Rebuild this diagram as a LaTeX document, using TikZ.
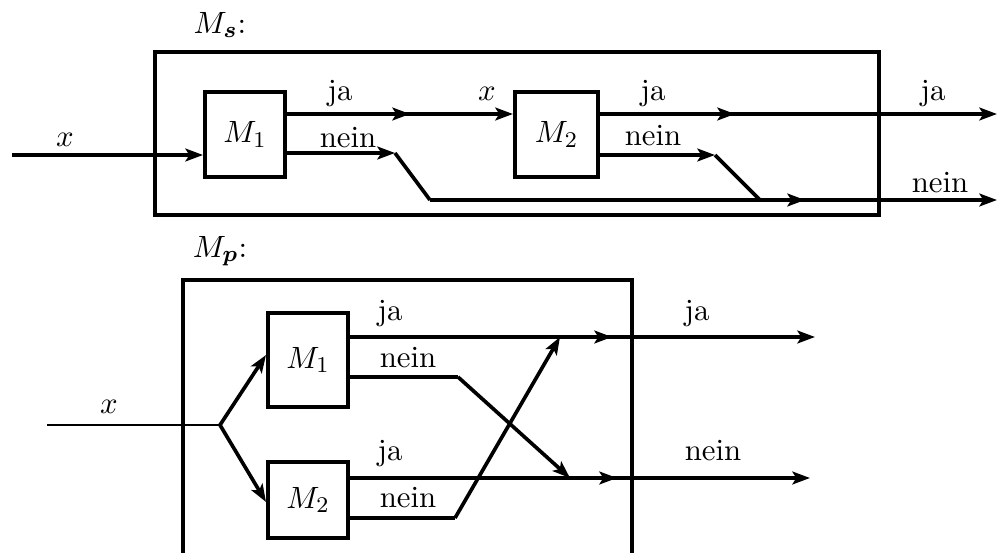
\documentclass[tikz,border=0pt,11pt]{standalone}
\usepackage{amsmath}
\usetikzlibrary{arrows.meta}
\begin{document}
\begin{tikzpicture}[
  x=0.0125cm, y=-0.0125cm,
  line width=1.3pt,
  machine/.style={draw, line width=1.4pt, inner sep=0pt, minimum width=1cm},
  frame/.style={draw, line width=1.4pt, inner sep=0pt},
  lbl/.style={anchor=base, inner sep=0pt},
  flow/.style={-{Stealth[length=2.2mm,width=1.6mm,inset=0.5mm]}}
]
  \useasboundingbox (0,0) rectangle (997,553);

  % serial composition
  \node[lbl] (ms) at (220,33) {$M_{\boldsymbol{s}}$:};
  \node[frame, minimum width=9.05cm, minimum height=2.04cm] (sframe) at (517,133.5) {};
  \node[machine, minimum height=1.06cm] (s1) at (245,134.5) {$M_1$};
  \node[machine, minimum width=1.04cm, minimum height=1.06cm] (s2) at (556.5,134.5) {$M_2$};

  \coordinate (sx) at (12,155);
  \coordinate (s1ja) at (410,114);
  \coordinate (s1nk) at (395,153);
  \coordinate (s1nb) at (430,200);
  \coordinate (snmid) at (805,200);
  \coordinate (snout) at (997,200);
  \coordinate (s2jmid) at (735,114);
  \coordinate (sjout) at (997,114);
  \coordinate (s2nk) at (715,155);
  \coordinate (s2nb) at (760,200);

  \draw[flow] (sx) -- (s1.west |- sx);
  \draw[flow] (s1.east |- s1ja) -- (s1ja);
  \draw[flow] (s1.east |- s1ja) -- (s2.west |- s1ja);
  \draw[flow] (s1.east |- s1nk) -- (s1nk);
  \draw (s1nk) -- (s1nb);
  \draw[flow] (s1nb) -- (snmid);
  \draw[flow] (s1nb) -- (snout);
  \draw[flow] (s2.east |- s2jmid) -- (s2jmid);
  \draw[flow] (s2.east |- s2jmid) -- (sjout);
  \draw[flow] (s2.east |- s2nk) -- (s2nk);
  \draw (s2nk) -- (s2nb);

  \node[lbl] (sxl) at (65,146) {$x$};
  \node[lbl] (s1jl) at (340,100) {ja};
  \node[lbl] (s1nl) at (348,147) {nein};
  \node[lbl] (s2xl) at (487,100) {$x$};
  \node[lbl] (s2jl) at (653,100) {ja};
  \node[lbl] (s2nl) at (653,145) {nein};
  \node[lbl] (sjl) at (933,100) {ja};
  \node[lbl] (snl) at (940,192) {nein};

  % parallel composition
  \node[lbl] (mp) at (220,257) {$M_{\boldsymbol{p}}$:};
  \draw[line width=1.4pt] (183,553) -- (183,280) -- (632,280) -- (632,553);
  \node[machine, minimum height=1.18cm] (p1) at (308,360) {$M_1$};
  \node[machine, minimum height=0.95cm] (p2) at (308,500) {$M_2$};

  \coordinate (px) at (47,425);
  \coordinate (psplit) at (220,425);
  \coordinate (p1j) at (612,337);
  \coordinate (p1jout) at (815,337);
  \coordinate (p1nk) at (458,377);
  \coordinate (p1nb) at (570,478);
  \coordinate (p2j) at (617,478);
  \coordinate (p2jout) at (810,478);
  \coordinate (p2nk) at (455,518);
  \coordinate (p2nb) at (560,337);

  \draw[line width=1pt] (px) -- (psplit);
  \draw[flow] (psplit) -- (p1.west |- 0,355);
  \draw[flow] (psplit) -- (p2.west |- 0,502);
  \draw[flow] (p1.east |- p1j) -- (p1j);
  \draw[flow] (p1.east |- p1j) -- (p1jout);
  \draw (p1.east |- p1nk) -- (p1nk);
  \draw[flow] (p1nk) -- (p1nb);
  \draw[flow] (p2.east |- p2j) -- (p2j);
  \draw[flow] (p2.east |- p2j) -- (p2jout);
  \draw (p2.east |- p2nk) -- (p2nk);
  \draw[flow] (p2nk) -- (p2nb);

  \node[lbl] (pxl) at (109,413) {$x$};
  \node[lbl] (p1jl) at (390,320) {ja};
  \node[lbl] (p1nl) at (408,367) {nein};
  \node[lbl] (p2jl) at (390,460) {ja};
  \node[lbl] (p2nl) at (408,507) {nein};
  \node[lbl] (pjl) at (697,320) {ja};
  \node[lbl] (pnl) at (713,460) {nein};
\end{tikzpicture}
\end{document}
